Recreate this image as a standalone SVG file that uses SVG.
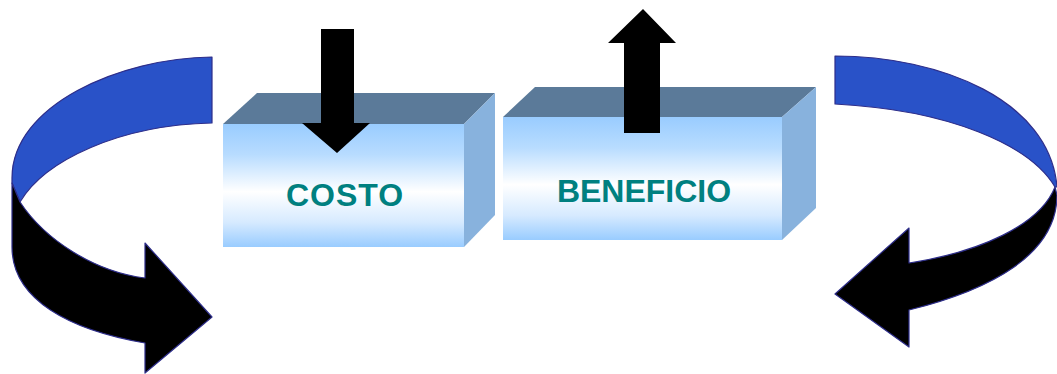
<svg xmlns="http://www.w3.org/2000/svg" width="1057" height="374" viewBox="0 0 1057 374">
<defs>
<linearGradient id="front" x1="0" y1="0" x2="0" y2="1">
<stop offset="0" stop-color="#99CCFF"/>
<stop offset="0.25" stop-color="#B8DCFF"/>
<stop offset="0.55" stop-color="#FFFFFF"/>
<stop offset="0.8" stop-color="#D6EAFF"/>
<stop offset="1" stop-color="#99CCFF"/>
</linearGradient>
<style>
.top{fill:#5B7A99}
.side{fill:#88B2DD}
.front{fill:url(#front)}
.label{font-family:"Liberation Sans",Arial,sans-serif;font-weight:bold;font-size:32px;fill:#008080;text-anchor:middle}
.blk{fill:#000000}
.rib{fill:#2952C8;stroke:#2E2E8A;stroke-width:1.2;stroke-linejoin:round}
.ribk{fill:#000000;stroke:#2E2E8A;stroke-width:1.2;stroke-linejoin:round}
</style>
</defs>
<g id="costo">
<polygon class="top" points="223,124 257,93 495,93 464,124"/>
<polygon class="side" points="464,124 495,93 495,215 464,247"/>
<rect class="front" x="223" y="124" width="241" height="123"/>
<text class="label" x="345" y="206" letter-spacing="1">COSTO</text>
</g>
<g id="beneficio">
<polygon class="top" points="503,117 535,87 816,87 782,117"/>
<polygon class="side" points="782,117 816,87 816,208 782,240"/>
<rect class="front" x="503" y="117" width="279" height="123"/>
<text class="label" x="644" y="202">BENEFICIO</text>
</g>
<g id="arrow-down">
<polygon class="blk" points="321,29 354,29 354,123 370,123 337,153 302,123 321,123"/>
</g>
<g id="arrow-up">
<polygon class="blk" points="624,133 660,133 660,43 676,43 643,9 608,43 624,43"/>
</g>
<g id="connectors">
<g id="left-curve">
<path class="rib" d="M212,57 C120,58 12,105 12,178 L12,183 L20,202 C45,160 120,125 212,123 Z"/>
<path class="ribk" d="M20,202 C45,240 95,272 145,278 L145,243 L212,317 L145,373 L145,343 C70,330 12,300 12,247 L12,183 Z"/>
</g>
<g id="right-curve">
<path class="rib" d="M835,56 C940,56 1050,100 1057,187 L1055,187 C1030,145 950,110 835,104 Z"/>
<path class="ribk" d="M1055,187 C1040,225 980,252 909,263 L909,228 L835,294 L909,347 L909,310 C990,290 1057,255 1057,195 Z"/>
</g>
</g>
</svg>
